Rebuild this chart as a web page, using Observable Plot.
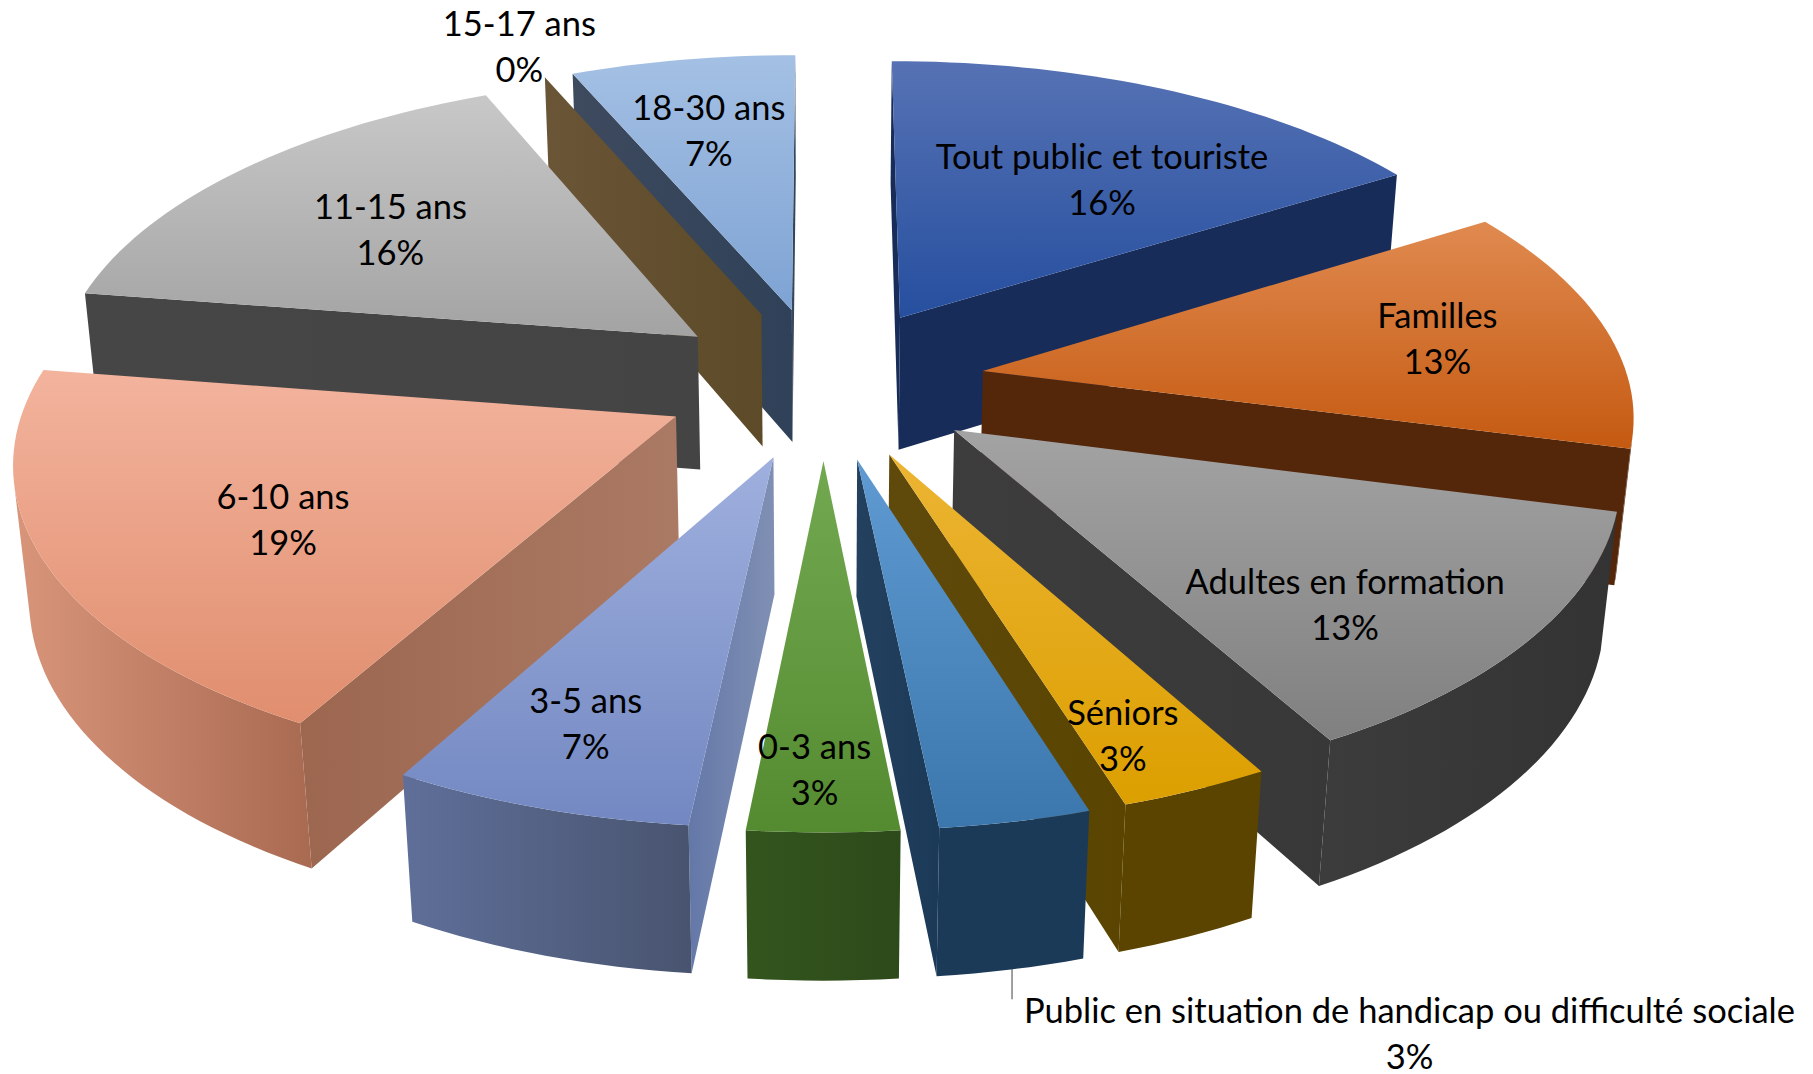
<!DOCTYPE html>
<html><head><meta charset="utf-8">
<style>html,body{margin:0;padding:0;background:#fff}svg{display:block}</style>
<script src="https://cdn.jsdelivr.net/npm/d3@7"></script>
<script src="https://cdn.jsdelivr.net/npm/@observablehq/plot@0.6"></script>
</head><body><div id="chart"></div>
<script>
const categories = ["Tout public et touriste","Familles","Adultes en formation","Séniors","Public en situation de handicap ou difficulté sociale","0-3 ans","3-5 ans","6-10 ans","11-15 ans","15-17 ans","18-30 ans"];
const shares = [16.13,12.9,12.9,3.23,3.23,3.23,6.45,19.35,16.13,0,6.45];
const percentLabels = ["16%","13%","13%","3%","3%","3%","7%","19%","16%","0%","7%"];
// top face gradient (upper, lower)
const topLight = ["#5672b4","#e08a50","#a3a3a3","#ecb433","#5f9ad2","#72a850","#9fb0de","#f3b39d","#c8c8c8","#6a5536","#a4c0e4"];
const topDark  = ["#264f9f","#c55a11","#808080","#dc9f00","#3b76ac","#558b30","#7388c2","#e08e6e","#a3a3a3","#5c4a28","#7ea3d3"];
// radial wall and rim wall gradient (left, right)
const radialLeft  = ["#172c58","#54260a","#3d3d3d","#5f4a0c","#24405f","#2f4c1b","#6478a8","#9c664f","#464646","#6a5536","#3e4a5e"];
const radialRight = ["#172c58","#54260a","#383838","#5a4400","#1b3a58","#2f4c1b","#8090b4","#ab7a64","#444444","#5c4a28","#2f4158"];
const rimLeft  = ["#172c58","#54260a","#3c3c3c","#5a4400","#1b3a58","#33551d","#5f6f99","#d8957a","#464646","#5c4a28","#2f4158"];
const rimRight = ["#172c58","#54260a","#333333","#5a4400","#1b3a58","#2d4a1a","#48546f","#a96a52","#464646","#5c4a28","#2f4158"];
// label placement in pie terms: fraction of the radius, and bearing in degrees
const labelRadius  = [.619,.728,.748,.842,1.592,.848,.785,.649,.644,1.145,.698];
const labelBearing = [34.3,81.4,133.6,158.7,155.3,180.8,198.4,240.9,306.6,337,347.8];

const W = 1813, H = 1074;
const cx = 823, cy = 382, R = 646, E = 162, DEPTH = 137;
const tilt = .47, persp = .000193, fall = .000145;
const total = d3.sum(shares);
const project = (X, Y, Z) => { const w = 1 - persp * Y + fall * Z; return {x: cx + X / w, y: cy + (tilt * Y + Z) / w}; };
const rad = d => d * Math.PI / 180;

let cum = 0;
const slices = shares.map((v, i) => {
  const a0 = cum / total * 360; cum += v; const a1 = cum / total * 360;
  const mid = (a0 + a1) / 2;
  const ox = E * Math.sin(rad(mid)), oy = -E * Math.cos(rad(mid));
  const at = (a, r, Z) => project(ox + r * R * Math.sin(rad(a)), oy - r * R * Math.cos(rad(a)), Z);
  return {i, a0, a1, mid, ox, oy, at};
});
const shoelace = pts => d3.sum(pts, (p, k) => { const q = pts[(k + 1) % pts.length]; return p.x * q.y - q.x * p.y; });

const faces = [];
for (const s of [...slices].sort((a, b) => a.oy - b.oy)) {
  const n = Math.max(2, Math.ceil((s.a1 - s.a0) / 1.5));
  const angles = d3.range(n + 1).map(k => s.a0 + (s.a1 - s.a0) * k / n);
  const quad = a => [s.at(0, 0, 0), s.at(a, 1, 0), s.at(a, 1, DEPTH), s.at(0, 0, DEPTH)];
  const q0 = quad(s.a0), q1 = quad(s.a1);
  if (shoelace(q0) < 0) faces.push({pts: q0, g: `r${s.i}`});
  if (shoelace(q1) > 0) faces.push({pts: q1, g: `r${s.i}`});
  // rim: keep the segments facing the viewer
  const vis = [];
  for (let k = 0; k < n; k++) {
    const q = [s.at(angles[k],1,0), s.at(angles[k+1],1,0), s.at(angles[k+1],1,DEPTH), s.at(angles[k],1,DEPTH)];
    if (shoelace(q) < -1e-6) vis.push(k);
  }
  if (vis.length) {
    const as = [...vis.map(k => angles[k]), angles[vis[vis.length-1] + 1]];
    faces.push({pts: [...as.map(a => s.at(a,1,0)), ...as.slice().reverse().map(a => s.at(a,1,DEPTH))], g: `w${s.i}`});
  }
  if (s.a1 > s.a0) faces.push({pts: [s.at(0,0,0), ...angles.map(a => s.at(a,1,0))], g: `t${s.i}`});
}

const defs = () => {
  const d = d3.create("svg:defs");
  const add = (id, c0, c1, vertical) => {
    const g = d.append("linearGradient").attr("id", id).attr("x1",0).attr("y1",0).attr("x2",vertical?0:1).attr("y2",vertical?1:0);
    g.append("stop").attr("offset",0).attr("stop-color",c0);
    g.append("stop").attr("offset",1).attr("stop-color",c1);
  };
  slices.forEach(({i}) => {
    add(`t${i}`, topLight[i], topDark[i], true);
    add(`r${i}`, radialLeft[i], radialRight[i], false);
    add(`w${i}`, rimLeft[i], rimRight[i], false);
  });
  return d.node();
};

const labels = slices.map(s => {
  const p = s.at(labelBearing[s.i], labelRadius[s.i], 0);
  return {x: p.x, y: p.y, text: `${categories[s.i]}\n${percentLabels[s.i]}`};
});
const pub = slices[4];
const leader = [pub.at(pub.mid, 1, DEPTH), pub.at(pub.mid, 1, DEPTH + 28)];
leader[0].x += 1; leader[1].x = leader[0].x;

const plot = Plot.plot({
  width: W, height: H, margin: 0,
  x: {domain: [0, W], range: [0, W], axis: null},
  y: {domain: [0, H], range: [0, H], axis: null},
  marks: [
    defs,
    ...faces.map(f => Plot.line(f.pts, {x: "x", y: "y", curve: "linear-closed", fill: `url(#${f.g})`, stroke: "none"})),
    Plot.line(leader, {x: "x", y: "y", stroke: "#404040", strokeWidth: 1}),
    Plot.text(labels, {x: "x", y: "y", dy: -2, text: "text", fontFamily: "Lato", fontSize: 34.5, lineHeight: 1.33, fill: "#000"})
  ]
});
document.getElementById("chart").append(plot);
</script></body></html>
